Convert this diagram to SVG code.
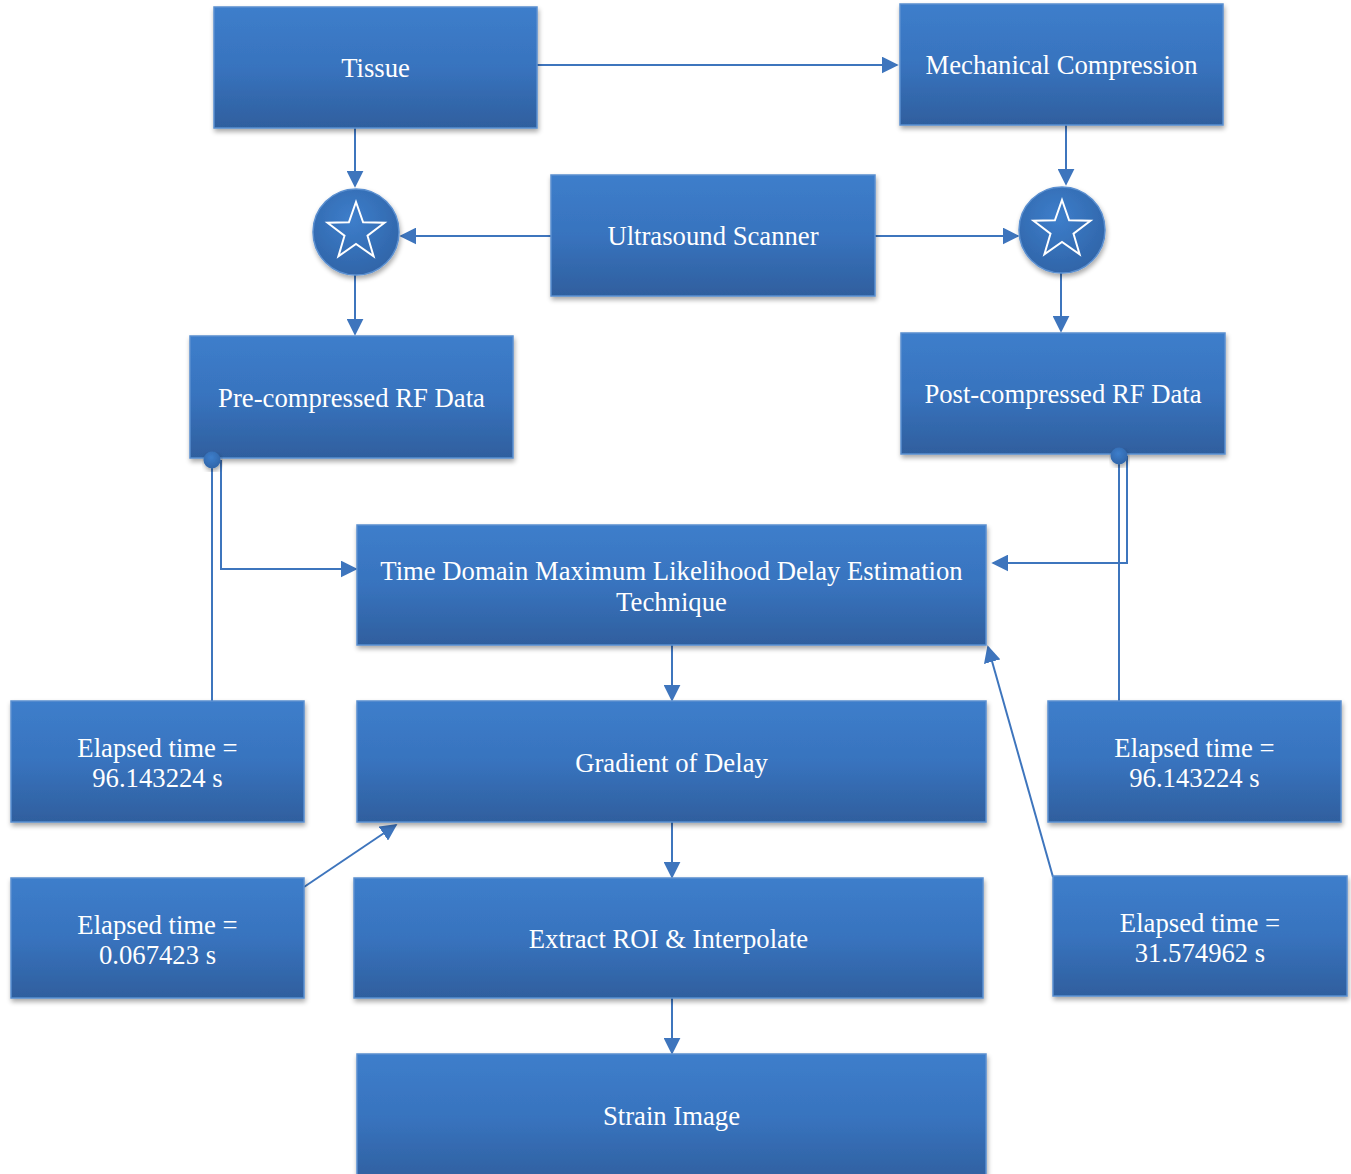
<svg xmlns="http://www.w3.org/2000/svg" width="1351" height="1174" viewBox="0 0 1351 1174">
  <defs>
    <linearGradient id="boxFill" x1="0" y1="0" x2="0" y2="1">
      <stop offset="0" stop-color="#3d7ecb"/>
      <stop offset="0.5" stop-color="#3873be"/>
      <stop offset="1" stop-color="#2f5f9e"/>
    </linearGradient>
    <radialGradient id="dotFill" cx="0.45" cy="0.35" r="0.7">
      <stop offset="0" stop-color="#3d7ecb"/>
      <stop offset="1" stop-color="#2f63a6"/>
    </radialGradient>
    <filter id="shadow" x="-10%" y="-10%" width="120%" height="130%">
      <feGaussianBlur in="SourceAlpha" stdDeviation="2.5"/>
      <feOffset dx="1" dy="3" result="b"/>
      <feComponentTransfer><feFuncA type="linear" slope="0.35"/></feComponentTransfer>
      <feMerge><feMergeNode/><feMergeNode in="SourceGraphic"/></feMerge>
    </filter>
    <marker id="arrow" viewBox="0 0 10 10" refX="9" refY="5" markerWidth="17" markerHeight="17" markerUnits="userSpaceOnUse" orient="auto">
      <path d="M0,0 L10,5 L0,10 Z" fill="#3e75bd"/>
    </marker>
  </defs>
  <style>
    .box { fill: url(#boxFill); stroke: #5a8fd0; stroke-width: 1.5; filter: url(#shadow); }
    .lbl { font-family: "Liberation Serif", "Times New Roman", serif; font-size: 26.7px; fill: #ffffff; text-anchor: middle; }
    .conn { fill: none; stroke: #3e75bd; stroke-width: 2; }
    .star { fill: none; stroke: #ffffff; stroke-width: 2; stroke-linejoin: miter; }
    .port { fill: url(#dotFill); filter: url(#shadow); }
  </style>

  <rect width="1351" height="1174" fill="#ffffff"/>

  <!-- connectors -->
  <g id="connectors">
    <path class="conn" d="M537,65 H897" marker-end="url(#arrow)"/>
    <path class="conn" d="M355,128 V186" marker-end="url(#arrow)"/>
    <path class="conn" d="M1066,125 V184" marker-end="url(#arrow)"/>
    <path class="conn" d="M551,236 H401" marker-end="url(#arrow)"/>
    <path class="conn" d="M875,236 H1018" marker-end="url(#arrow)"/>
    <path class="conn" d="M355,275 V334" marker-end="url(#arrow)"/>
    <path class="conn" d="M1061,273 V331" marker-end="url(#arrow)"/>
    <path class="conn" d="M212,460 V701"/>
    <path class="conn" d="M221,460 V569 H356" marker-end="url(#arrow)"/>
    <path class="conn" d="M1119,456 V701"/>
    <path class="conn" d="M1127,456 V563 H993" marker-end="url(#arrow)"/>
    <path class="conn" d="M672,645 V700" marker-end="url(#arrow)"/>
    <path class="conn" d="M672,822 V877" marker-end="url(#arrow)"/>
    <path class="conn" d="M672,998 V1053" marker-end="url(#arrow)"/>
    <path class="conn" d="M304,887 L396,825" marker-end="url(#arrow)"/>
    <path class="conn" d="M1053,877 L988,647" marker-end="url(#arrow)"/>
  </g>

  <g id="tissue">
    <rect class="box" x="214" y="7" width="323" height="121"/>
    <text class="lbl" x="375.5" y="77">Tissue</text>
  </g>
  <g id="mechanical-compression">
    <rect class="box" x="900" y="4" width="323" height="121"/>
    <text class="lbl" x="1061.5" y="74">Mechanical Compression</text>
  </g>
  <g id="ultrasound-scanner">
    <rect class="box" x="551" y="175" width="324" height="121"/>
    <text class="lbl" x="713" y="245">Ultrasound Scanner</text>
  </g>
  <g id="acquire-pre">
    <circle cx="356" cy="232" r="43" fill="url(#dotFill)" stroke="#5a8fd0" stroke-width="1.5" filter="url(#shadow)"/>
    <polygon class="star" points="356,202 363.1,222.3 384.5,222.7 367.5,235.7 373.6,256.3 356,244 338.4,256.3 344.5,235.7 327.5,222.7 348.9,222.3"/>
  </g>
  <g id="acquire-post">
    <circle cx="1062" cy="230" r="43" fill="url(#dotFill)" stroke="#5a8fd0" stroke-width="1.5" filter="url(#shadow)"/>
    <polygon class="star" points="1062,200 1069.1,220.3 1090.5,220.7 1073.5,233.7 1079.6,254.3 1062,242 1044.4,254.3 1050.5,233.7 1033.5,220.7 1054.9,220.3"/>
  </g>
  <g id="pre-compressed">
    <rect class="box" x="190" y="336" width="323" height="122"/>
    <text class="lbl" x="351.5" y="407">Pre-compressed RF Data</text>
    <circle class="port" cx="212" cy="460" r="8.5"/>
  </g>
  <g id="post-compressed">
    <rect class="box" x="901" y="333" width="324" height="121"/>
    <text class="lbl" x="1063" y="403">Post-compressed RF Data</text>
    <circle class="port" cx="1119" cy="456" r="8.5"/>
  </g>
  <g id="tdmle">
    <rect class="box" x="357" y="525" width="629" height="120"/>
    <text class="lbl" x="671.5" y="580">Time Domain Maximum Likelihood Delay Estimation</text>
    <text class="lbl" x="671.5" y="611">Technique</text>
  </g>
  <g id="gradient-of-delay">
    <rect class="box" x="357" y="701" width="629" height="121"/>
    <text class="lbl" x="671.5" y="772">Gradient of Delay</text>
  </g>
  <g id="extract-roi">
    <rect class="box" x="354" y="878" width="629" height="120"/>
    <text class="lbl" x="668.5" y="948">Extract ROI &amp; Interpolate</text>
  </g>
  <g id="strain-image">
    <rect class="box" x="357" y="1054" width="629" height="130"/>
    <text class="lbl" x="671.5" y="1125">Strain Image</text>
  </g>
  <g id="elapsed-pre">
    <rect class="box" x="11" y="701" width="293" height="121"/>
    <text class="lbl" x="157.5" y="757">Elapsed time =</text>
    <text class="lbl" x="157.5" y="787">96.143224 s</text>
  </g>
  <g id="elapsed-post">
    <rect class="box" x="1048" y="701" width="293" height="121"/>
    <text class="lbl" x="1194.5" y="757">Elapsed time =</text>
    <text class="lbl" x="1194.5" y="787">96.143224 s</text>
  </g>
  <g id="elapsed-gradient">
    <rect class="box" x="11" y="878" width="293" height="120"/>
    <text class="lbl" x="157.5" y="934">Elapsed time =</text>
    <text class="lbl" x="157.5" y="964">0.067423 s</text>
  </g>
  <g id="elapsed-tdmle">
    <rect class="box" x="1053" y="876" width="294" height="120"/>
    <text class="lbl" x="1200" y="932">Elapsed time =</text>
    <text class="lbl" x="1200" y="962">31.574962 s</text>
  </g>
</svg>
